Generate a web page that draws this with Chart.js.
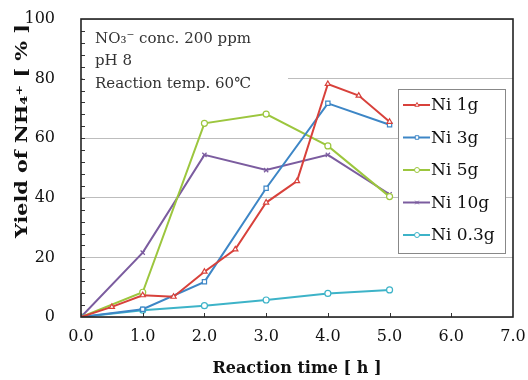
<!DOCTYPE html>
<html>
<head>
<meta charset="utf-8">
<script src="https://cdn.jsdelivr.net/npm/chart.js@4.4.0/dist/chart.umd.min.js"></script>
<style>
  body { margin: 0; background: #fff; }
  #wrap { width: 528px; height: 380px; }
</style>
</head>
<body>
<div id="wrap"><canvas id="yieldChart" width="528" height="380"></canvas></div>
<script>
// reaction time [h] for each sampling schedule
var timeHalfHour = [0, 0.5, 1, 1.5, 2, 2.5, 3, 3.5, 4, 4.5, 5];
var timeHourly = [0, 1, 2, 3, 4, 5];

// NH4+ yield [%]
var ni1g = [0, 3.4, 7.3, 6.8, 15.2, 22.7, 38.4, 45.6, 78.2, 74.3, 65.5];
var ni3g = [0, 2.6, 11.8, 43.2, 71.7, 64.5];
var ni5g = [0, 8.3, 65.0, 68.1, 57.4, 40.4];
var ni10g = [0, 21.6, 54.4, 49.3, 54.4, 41.2];
var ni03g = [0, 2.3, 3.8, 5.7, 7.9, 9.1];

var seriesNames = ['Ni 1g', 'Ni 3g', 'Ni 5g', 'Ni 10g', 'Ni 0.3g'];
var seriesColors = ['#d8413b', '#3d86c6', '#9cc63e', '#7b5c9f', '#3db3c8'];
var seriesMarkers = ['triangle', 'rect', 'circle', 'crossRot', 'circle'];

var infoLines = ['NO\u2083\u207b conc. 200 ppm', 'pH 8', 'Reaction temp. 60\u2103'];
var yTitle = 'Yield of NH\u2084\u207a [ % ]';

var serif = "'DejaVu Serif', 'Liberation Serif', serif";

function toPoints(xs, ys) {
  return ys.map(function (v, i) { return { x: xs[i], y: v }; });
}

var seriesData = [
  toPoints(timeHalfHour, ni1g),
  toPoints(timeHourly, ni3g),
  toPoints(timeHourly, ni5g),
  toPoints(timeHourly, ni10g),
  toPoints(timeHourly, ni03g)
];

var datasets = seriesNames.map(function (name, i) {
  return {
    label: name,
    data: seriesData[i],
    borderColor: seriesColors[i],
    backgroundColor: seriesColors[i],
    pointStyle: seriesMarkers[i],
    pointBackgroundColor: '#fff',
    pointBorderColor: seriesColors[i],
    pointBorderWidth: 1.2,
    pointRadius: 3,
    borderWidth: 2,
    tension: 0
  };
});

// white block with the reaction conditions, top-left inside the plot
var infoBox = {
  id: 'infoBox',
  beforeDatasetsDraw: function (chart) {
    var ctx = chart.ctx, a = chart.chartArea;
    ctx.save();
    ctx.fillStyle = '#fff';
    ctx.fillRect(a.left + 2, a.top + 2, 205, 80);
    ctx.fillStyle = '#333';
    ctx.font = '15px ' + serif;
    ctx.textBaseline = 'middle';
    infoLines.forEach(function (t, i) {
      ctx.fillText(t, a.left + 14, a.top + 20 + i * 22.5);
    });
    ctx.restore();
  }
};

// frame, inner tick marks, y title and the boxed legend
var frameAndLegend = {
  id: 'frameAndLegend',
  afterDraw: function (chart) {
    var ctx = chart.ctx, a = chart.chartArea;
    var xs = chart.scales.x, ys = chart.scales.y;
    ctx.save();
    ctx.strokeStyle = '#333';
    ctx.lineWidth = 1;
    ctx.beginPath();
    for (var v = 4; v < 100; v += 4) {
      var py = Math.round(ys.getPixelForValue(v)) + 0.5;
      ctx.moveTo(a.left, py);
      ctx.lineTo(a.left + 4, py);
    }
    for (var h = 1; h < 7; h++) {
      var px = Math.round(xs.getPixelForValue(h)) + 0.5;
      ctx.moveTo(px, a.bottom);
      ctx.lineTo(px, a.bottom - 4);
    }
    ctx.stroke();

    ctx.strokeStyle = '#222';
    ctx.lineWidth = 1.6;
    ctx.strokeRect(a.left, a.top, a.right - a.left, a.bottom - a.top);

    // rotated y axis title, sitting a little above the middle of the axis
    ctx.save();
    ctx.translate(23, a.top + 112);
    ctx.rotate(-Math.PI / 2);
    ctx.font = 'bold 16px ' + serif;
    ctx.fillStyle = '#111';
    ctx.textAlign = 'center';
    ctx.textBaseline = 'middle';
    var tw = ctx.measureText(yTitle).width;
    ctx.scale(214 / tw, 1);
    ctx.fillText(yTitle, 0, 0);
    ctx.restore();

    // legend
    var lx = a.right - 115, ly = a.top + 70, lw = 107, lh = 164;
    ctx.fillStyle = '#fff';
    ctx.fillRect(lx, ly, lw, lh);
    ctx.strokeStyle = '#888';
    ctx.lineWidth = 1;
    ctx.strokeRect(lx + 0.5, ly + 0.5, lw, lh);
    ctx.font = '17px ' + serif;
    ctx.textBaseline = 'middle';
    chart.data.datasets.forEach(function (ds, i) {
      var cy = ly + 16 + i * 32.5;
      ctx.strokeStyle = ds.borderColor;
      ctx.lineWidth = 2;
      ctx.beginPath();
      ctx.moveTo(lx + 5, cy);
      ctx.lineTo(lx + 32, cy);
      ctx.stroke();
      ctx.fillStyle = '#fff';
      ctx.lineWidth = 1;
      Chart.helpers.drawPoint(ctx, { pointStyle: ds.pointStyle, radius: 2.5, borderWidth: 1, rotation: 0 }, lx + 19, cy);
      ctx.fillStyle = '#111';
      ctx.fillText(ds.label, lx + 33, cy + 1);
    });
    ctx.restore();
  }
};

new Chart(document.getElementById('yieldChart'), {
  type: 'line',
  data: { datasets: datasets },
  options: {
    responsive: false,
    animation: false,
    devicePixelRatio: 1,
    layout: { padding: { top: 19, right: 15, left: 0, bottom: 0 } },
    plugins: { legend: { display: false }, tooltip: { enabled: false } },
    scales: {
      x: {
        type: 'linear',
        min: 0,
        max: 7,
        grid: { display: false, drawTicks: false },
        border: { display: false },
        ticks: {
          stepSize: 1,
          padding: 10,
          color: '#111',
          font: { family: serif, size: 16 },
          callback: function (v) { return v.toFixed(1); }
        },
        title: {
          display: true,
          text: 'Reaction time [ h ]',
          color: '#111',
          font: { family: serif, size: 16, weight: 'bold' },
          padding: { top: 0, bottom: 2 }
        },
        afterFit: function (s) {
          s.height = 63;
          s.paddingLeft = 0;
          s.paddingRight = 0;
        }
      },
      y: {
        min: 0,
        max: 100,
        grid: { color: '#bdbdbd', lineWidth: 1, drawTicks: false },
        border: { display: false },
        ticks: {
          stepSize: 20,
          padding: 26,
          color: '#111',
          font: { family: serif, size: 16 }
        },
        afterFit: function (s) {
          s.width = 81;
          s.paddingTop = 0;
          s.paddingBottom = 0;
        }
      }
    }
  },
  plugins: [infoBox, frameAndLegend]
});
</script>
</body>
</html>
